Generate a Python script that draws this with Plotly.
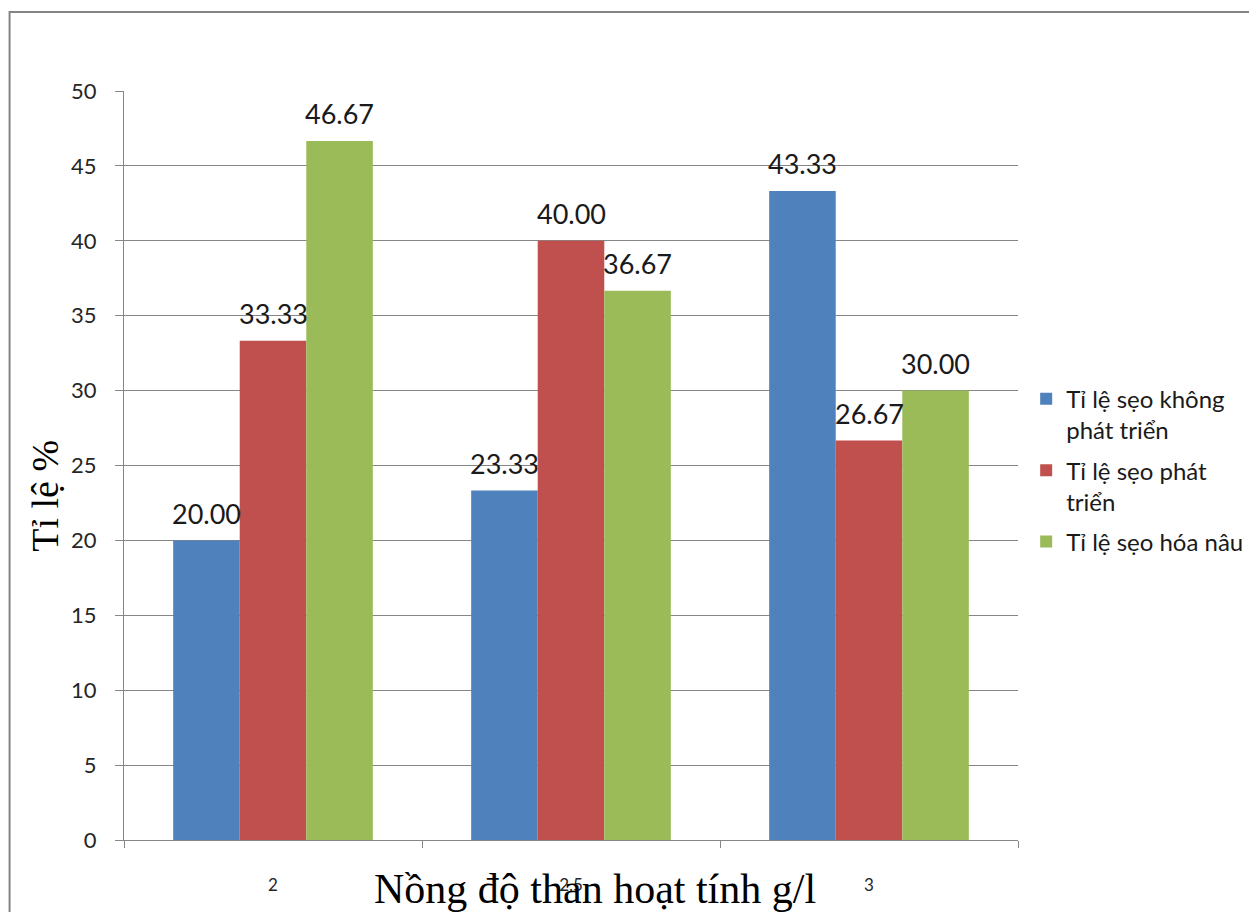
import plotly.graph_objects as go

# Nồng độ than hoạt tính (g/l) và tỉ lệ sẹo (%)
concentrations = ["2", "2.5", "3"]
series_names = [
    "Tỉ lệ sẹo không<br>phát triển",
    "Tỉ lệ sẹo phát<br>triển",
    "Tỉ lệ sẹo hóa nâu",
]
khong_phat_trien = [20.00, 23.33, 43.33]
phat_trien = [33.33, 40.00, 26.67]
hoa_nau = [46.67, 36.67, 30.00]
y_ticks = [0, 5, 10, 15, 20, 25, 30, 35, 40, 45, 50]

series_values = [khong_phat_trien, phat_trien, hoa_nau]
colors = ["#4F81BD", "#C0504D", "#9BBB59"]

SANS = "Lato, 'Noto Sans', sans-serif"
SERIF = "'Liberation Serif', 'Times New Roman', serif"
BARGAP = 0.33

fig = go.Figure()
for k, (name, vals, col) in enumerate(zip(series_names, series_values, colors)):
    fig.add_trace(go.Bar(
        x=concentrations, y=vals, name=name, legendgroup=f"g{k}",
        marker=dict(color=col, line=dict(width=0)),
    ))

# value labels above each bar, positioned from the bar values
n_series = len(series_values)
bar_w = (1 - BARGAP) / n_series
for s, vals in enumerate(series_values):
    offset = (s - (n_series - 1) / 2) * bar_w
    for i, v in enumerate(vals):
        fig.add_annotation(
            x=i + offset, y=v, xref="x", yref="y",
            text=f"{v:.2f}", showarrow=False,
            yanchor="middle", yshift=27,
            font=dict(family=SANS, size=27, color="#1a1a1a"),
        )

# axis titles
fig.add_annotation(
    text="Nồng độ than hoạt tính g/l", xref="paper", yref="paper",
    x=0.527, y=-0.065, xanchor="center", yanchor="middle", showarrow=False,
    font=dict(family=SERIF, size=42, color="#000000"),
)
fig.add_annotation(
    text="Tỉ lệ %", xref="paper", yref="paper", textangle=-90,
    x=-0.088, y=0.46, xanchor="center", yanchor="middle", showarrow=False,
    font=dict(family=SERIF, size=38, color="#000000"),
)

# chart frame
fig.add_shape(
    type="rect", xref="paper", yref="paper",
    x0=-0.128, y0=-0.3, x1=1.3, y1=1.1055,
    line=dict(color="#858585", width=2), fillcolor="rgba(0,0,0,0)",
    layer="below",
)

fig.update_layout(
    width=1249, height=912,
    margin=dict(l=124, r=231, t=91, b=72, autoexpand=False),
    paper_bgcolor="#ffffff", plot_bgcolor="#ffffff",
    barmode="group", bargap=BARGAP, bargroupgap=0,
    showlegend=True,
    legend=dict(
        xref="container", yref="container",
        x=0.8216, y=0.587, xanchor="left", yanchor="top",
        font=dict(family=SANS, size=24, color="#1a1a1a"),
        valign="top", tracegroupgap=6,
        bgcolor="rgba(0,0,0,0)",
    ),
    xaxis=dict(
        type="category", categoryorder="array", categoryarray=concentrations,
        showline=True, linecolor="#868686", linewidth=1,
        ticks="outside", tickson="boundaries", ticklen=7, tickcolor="#868686",
        tickfont=dict(family=SANS, size=17, color="#262626"),
        ticklabelstandoff=30,
        showgrid=False, zeroline=False,
    ),
    yaxis=dict(
        range=[0, 50], tickvals=y_ticks,
        showline=True, linecolor="#868686", linewidth=1,
        ticks="outside", ticklen=8, tickcolor="#868686",
        tickfont=dict(family=SANS, size=22, color="#262626"),
        ticklabelstandoff=14,
        showgrid=True, gridcolor="#868686", gridwidth=1,
        zeroline=False,
    ),
)

fig.write_html("out.html")
